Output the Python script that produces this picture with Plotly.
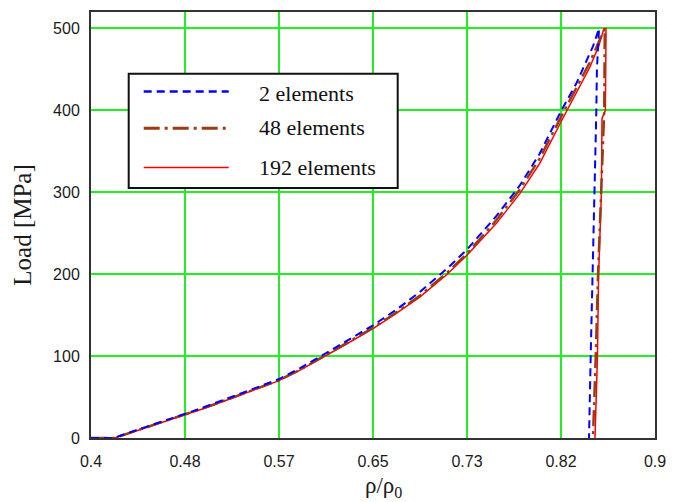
import plotly.graph_objects as go

# ---- data ----
x_ticks = [0.4, 0.48333, 0.56667, 0.65, 0.73333, 0.81667, 0.9]
x_tick_labels = ["0.4", "0.48", "0.57", "0.65", "0.73", "0.82", "0.9"]
y_ticks = [0, 100, 200, 300, 400, 500]

series_names = ["2 elements", "48 elements", "192 elements"]

x_blue = [0.400, 0.420, 0.440, 0.460, 0.4833, 0.500, 0.517, 0.540, 0.5667, 0.585, 0.6027,
          0.625, 0.650, 0.670, 0.6914, 0.715, 0.7333, 0.7594, 0.780, 0.7977, 0.8167, 0.830,
          0.8377, 0.845, 0.8504, 0.8485, 0.8480, 0.8462, 0.8444, 0.8430, 0.8415]
y_blue = [0, 0, 9.5, 18.5, 29.5, 37.5, 46, 58, 72, 85, 99,
          117, 137.5, 156, 178, 206, 230, 271, 308, 347, 399, 432,
          455, 478, 500, 450, 400, 300, 200, 100, 0]

x_brown = [0.400, 0.421, 0.440, 0.460, 0.4833, 0.500, 0.517, 0.540, 0.5667, 0.585, 0.6027,
           0.625, 0.650, 0.670, 0.6914, 0.715, 0.7333, 0.7594, 0.780, 0.7977, 0.8167, 0.830,
           0.842, 0.850, 0.8555, 0.8550, 0.8520, 0.8495, 0.8475, 0.8450]
y_brown = [0, 0, 9, 18, 28.5, 36.5, 45, 56.5, 70.5, 83, 96.5,
           114.5, 134.5, 152.5, 173.5, 201, 225, 266, 303, 341, 392, 427,
           458, 483, 500, 400, 300, 200, 100, 0]

x_red = [0.400, 0.421, 0.440, 0.460, 0.4833, 0.500, 0.517, 0.540, 0.5667, 0.585, 0.6027,
         0.625, 0.650, 0.670, 0.6914, 0.715, 0.7333, 0.7594, 0.780, 0.7977, 0.8167, 0.830,
         0.842, 0.850, 0.8548, 0.8566, 0.8560, 0.8530, 0.8525, 0.8500, 0.8490, 0.8468]
y_red = [0, 0, 8.5, 17.5, 28, 36, 44.5, 56, 70, 82.5, 96,
         113.5, 133.5, 151.5, 172, 199, 223, 262, 298, 335, 386, 420,
         452, 478, 500, 500, 400, 390, 300, 200, 100, 0]

BLUE = "#0000FF"
BROWN = "#9C3A14"
RED = "#FF0000"
BLUE_DASH = "8px,5px"
BROWN_DASH = "16px,5px,3px,5px"

fig = go.Figure()
fig.add_trace(go.Scatter(x=x_red, y=y_red, mode="lines", name=series_names[2],
                         line=dict(color=RED, width=1.5), showlegend=False))
fig.add_trace(go.Scatter(x=x_brown, y=y_brown, mode="lines", name=series_names[1],
                         line=dict(color=BROWN, width=2.5, dash=BROWN_DASH), showlegend=False))
fig.add_trace(go.Scatter(x=x_blue, y=y_blue, mode="lines", name=series_names[0],
                         line=dict(color=BLUE, width=2, dash=BLUE_DASH), showlegend=False))

tick_font = dict(family="Liberation Sans, Arial, sans-serif", size=16, color="#1a1a1a")
serif = "Liberation Serif, Times New Roman, serif"

fig.update_xaxes(range=[0.4, 0.9], tickvals=x_ticks, ticktext=x_tick_labels,
                 showgrid=True, gridcolor="#22EE22", gridwidth=2,
                 showline=True, linecolor="#333333", linewidth=2, mirror=True,
                 zeroline=False, ticks="", ticklabelstandoff=8, tickfont=tick_font)
fig.update_yaxes(range=[0, 520], tickvals=y_ticks,
                 showgrid=True, gridcolor="#22EE22", gridwidth=2,
                 showline=True, linecolor="#333333", linewidth=2, mirror=True,
                 zeroline=False, ticks="", ticklabelstandoff=6, tickfont=tick_font,
                 title=dict(text="Load [MPa]", font=dict(family=serif, size=25, color="#1a1a1a"),
                            standoff=14))

# custom legend (box, line samples, labels)
L, T, W, H = 91.3, 10.0, 564.0, 428.5
def px(x):
    return (x - L) / W
def py(y):
    return (T + H - y) / H

shapes = [dict(type="rect", xref="paper", yref="paper",
               x0=px(129), x1=px(398), y0=py(187), y1=py(72),
               line=dict(color="#111111", width=2), fillcolor="white", layer="above")]
rows = [(90, 91.5, BLUE, 2.5, BLUE_DASH), (127, 126.5, BROWN, 3, BROWN_DASH), (166.5, 166, RED, 1.5, "solid")]
annotations = []
for (ly, ty, col, w, d), name in zip(rows, series_names):
    shapes.append(dict(type="line", xref="paper", yref="paper",
                       x0=px(144), x1=px(229), y0=py(ly), y1=py(ly),
                       line=dict(color=col, width=w, dash=d), layer="above"))
    annotations.append(dict(text=name, xref="paper", yref="paper", x=px(257), y=py(ty),
                            xanchor="left", yanchor="middle", showarrow=False,
                            font=dict(family=serif, size=22, color="#111111")))

annotations.append(dict(text="ρ/ρ<sub>0</sub>", xref="paper", yref="paper",
                        x=px(384), y=py(488), xanchor="center", yanchor="middle",
                        showarrow=False, font=dict(family=serif, size=23, color="#1a1a1a")))

fig.update_layout(width=684, height=502, margin=dict(l=91, r=29, t=10, b=64),
                  paper_bgcolor="white", plot_bgcolor="white",
                  shapes=shapes, annotations=annotations, showlegend=False)

fig.write_html("out.html")
